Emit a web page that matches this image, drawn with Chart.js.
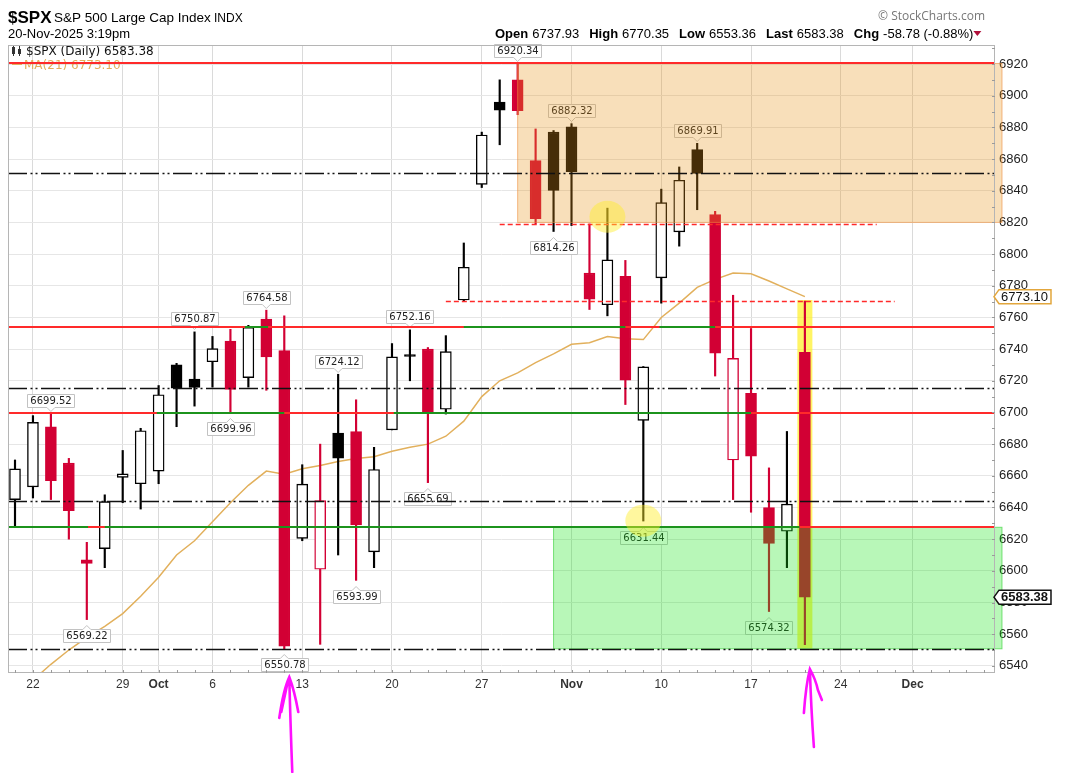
<!DOCTYPE html>
<html>
<head>
<meta charset="utf-8">
<script src="https://cdn.jsdelivr.net/npm/chart.js@4.4.1/dist/chart.umd.min.js"></script>
<style>
  html, body { margin: 0; padding: 0; background: #fff; overflow: hidden; }
  canvas { display: block; }
</style>
</head>
<body>
<canvas id="spx" width="1066" height="773" style="width:1066px;height:773px"></canvas>
<script>
// trading days shown, x value of each candle = its position - 1 (Sep 22 = 0)
const dates = ['Sep 19','Sep 22','Sep 23','Sep 24','Sep 25','Sep 26','Sep 29','Sep 30','Oct 1','Oct 2','Oct 3',
  'Oct 6','Oct 7','Oct 8','Oct 9','Oct 10','Oct 13','Oct 14','Oct 15','Oct 16','Oct 17','Oct 20','Oct 21','Oct 22',
  'Oct 23','Oct 24','Oct 27','Oct 28','Oct 29','Oct 30','Oct 31','Nov 3','Nov 4','Nov 5','Nov 6','Nov 7','Nov 10',
  'Nov 11','Nov 12','Nov 13','Nov 14','Nov 17','Nov 18','Nov 19','Nov 20'];
const opens = [6645, 6653, 6691, 6668, 6607, 6614, 6659, 6655, 6663, 6730, 6721, 6732, 6745, 6722, 6759, 6739,
  6620.5, 6601, 6687, 6688, 6612, 6689, 6736.5, 6740, 6702, 6771, 6844, 6896, 6910, 6859, 6877, 6880.4, 6788, 6768,
  6786, 6695, 6785, 6814, 6866, 6825, 6670, 6712, 6640, 6625, 6737.93];
const highs = [6670, 6698, 6699.52, 6671, 6618, 6648, 6676, 6690, 6717, 6731, 6750.87, 6748, 6752.5, 6755, 6764.58,
  6761, 6667, 6680, 6724.12, 6708, 6678, 6743.5, 6752.16, 6741, 6748.5, 6807, 6877, 6910, 6920.34, 6879, 6878,
  6882.32, 6819, 6829, 6796, 6729, 6841, 6855, 6869.91, 6827, 6774, 6753, 6665, 6688, 6770.35];
const lows = [6628, 6646, 6645, 6620, 6569.22, 6602, 6643, 6639, 6655, 6691, 6704, 6716, 6699.96, 6716, 6714,
  6550.78, 6619, 6553.6, 6610, 6593.99, 6602, 6689, 6720, 6655.69, 6699, 6770, 6842, 6869, 6888, 6819, 6814.26,
  6818, 6765, 6761, 6705, 6631.44, 6769, 6805, 6828, 6723, 6645, 6637, 6574.32, 6602, 6553.36];
const closes = [6664.36, 6693.75, 6656.92, 6637.97, 6604.72, 6643.70, 6661.21, 6688.46, 6711.20, 6715.35, 6715.79,
  6740.28, 6714.59, 6753.72, 6735.11, 6552.51, 6654.72, 6644.31, 6671.06, 6629.07, 6664.01, 6735.13, 6735.35,
  6699.40, 6738.44, 6791.69, 6875.16, 6890.89, 6890.59, 6822.34, 6840.20, 6851.97, 6771.55, 6796.29, 6720.32,
  6728.80, 6832.43, 6846.61, 6850.92, 6737.49, 6734.11, 6672.41, 6617.32, 6642.16, 6583.38];
const prevClose = 6631.96;
const ma21 = [6521, 6531, 6541, 6550, 6558, 6565, 6573, 6584, 6596, 6610, 6619, 6631, 6643, 6654, 6663, 6661,
  6664.5, 6666.5, 6669, 6671, 6672, 6675.5, 6678, 6680, 6685, 6694.5, 6710, 6720, 6725, 6731.5, 6737, 6743, 6744,
  6748, 6746.5, 6746, 6760, 6769, 6779, 6784, 6788, 6787.5, 6783, 6778, 6773.1];

// axis ticks
const tickIdx = [0, 5, 7, 10, 15, 20, 25, 30, 35, 40, 45, 49];
const tickText = ['22', '29', 'Oct', '6', '13', '20', '27', 'Nov', '10', '17', '24', 'Dec'];
const monthTicks = [7, 30, 49];
const yTicks = [6540, 6560, 6580, 6600, 6620, 6640, 6660, 6680, 6700, 6720, 6740, 6760, 6780, 6800, 6820, 6840,
  6860, 6880, 6900, 6920];

// annotations
const hiTags = ['Sep 23', 'Oct 3', 'Oct 9', 'Oct 15', 'Oct 21', 'Oct 29', 'Nov 3', 'Nov 12'];
const loTags = ['Sep 25', 'Oct 7', 'Oct 10', 'Oct 16', 'Oct 22', 'Oct 31', 'Nov 7', 'Nov 18'];
const redLevels = [6920.34, 6753.72, 6699.96, 6627.5];
const greenSegments = [[6753.72, 11.8, 13.1], [6753.72, 24.0, 33.0], [6753.72, 34.9, 38.0],
  [6699.96, 6.9, 14.0], [6699.96, 20.1, 40.0], [6627.5, -1.4, 3.07], [6627.5, 4.0, 42.7]];
const dashDotLevels = [6850.92, 6715.35, 6644.31, 6550.78];
const redDashes = [[6819, 26.0, 47.0], [6770.35, 23.0, 48.0]];
const resistZone = ['Oct 29', 6820, 6920.34];
const supportZone = ['Oct 31', 6550.78, 6627.5];
const highlight = ['Nov 20', 6551, 6771];
const circles = [[32, 6823.6], [34, 6631.7]];
const arrowDates = ['Oct 10', 'Nov 20'];

const red = 'rgb(210,0,52)';
const black = '#000';
const maColor = 'rgb(226,176,92)';
const xMin = -1.39, xMax = 53.59;
const yMin = 6535.5, yMax = 6932.0;

const dayX = d => dates.indexOf(d) - 1;
const candleColor = closes.map((c, k) => c >= (k ? closes[k - 1] : prevClose) ? black : red);
const bodyFill = closes.map((c, k) => c > opens[k] ? '#fff' : candleColor[k]);

function drawTag(ctx, cx, y, text, below) {
  ctx.font = '10px "DejaVu Sans"';
  const w = Math.round(ctx.measureText(text).width) + 6, h = 13;
  const top = Math.round(below ? y + 9.5 : y - 6.5 - h) + 0.5;
  const left = Math.round(cx - w / 2) + 0.5;
  ctx.beginPath();
  if (below) {
    ctx.moveTo(left, top); ctx.lineTo(cx - 4, top); ctx.lineTo(cx, top - 4); ctx.lineTo(cx + 4, top);
    ctx.lineTo(left + w, top); ctx.lineTo(left + w, top + h); ctx.lineTo(left, top + h);
  } else {
    ctx.moveTo(left, top); ctx.lineTo(left + w, top); ctx.lineTo(left + w, top + h); ctx.lineTo(cx + 4, top + h);
    ctx.lineTo(cx, top + h + 4); ctx.lineTo(cx - 4, top + h); ctx.lineTo(left, top + h);
  }
  ctx.closePath();
  ctx.fillStyle = '#fff';
  ctx.fill();
  ctx.strokeStyle = '#c2c2c2';
  ctx.lineWidth = 1;
  ctx.stroke();
  ctx.fillStyle = '#222';
  ctx.textAlign = 'center';
  ctx.textBaseline = 'middle';
  ctx.fillText(text, left + w / 2, top + h / 2 + 0.5);
}

// solid level lines are snapped to whole pixels so green segments fully cover the red ones
function hline(ctx, y, x0, x1, color, width, dash) {
  ctx.save();
  ctx.strokeStyle = color;
  ctx.lineWidth = width;
  ctx.setLineDash(dash || []);
  ctx.beginPath();
  ctx.moveTo(x0, y);
  ctx.lineTo(x1, y);
  ctx.stroke();
  ctx.restore();
}

function sideTag(ctx, x0, y, text, border, bold) {
  ctx.font = (bold ? 'bold ' : '') + '13px "Liberation Sans"';
  const w = ctx.measureText(text).width + 5, h = 14;
  ctx.beginPath();
  ctx.moveTo(x0, y);
  ctx.lineTo(x0 + 5, y - h / 2);
  ctx.lineTo(x0 + 5 + w, y - h / 2);
  ctx.lineTo(x0 + 5 + w, y + h / 2);
  ctx.lineTo(x0 + 5, y + h / 2);
  ctx.closePath();
  ctx.fillStyle = '#fff';
  ctx.fill();
  ctx.strokeStyle = border;
  ctx.lineWidth = 1.5;
  ctx.stroke();
  ctx.fillStyle = '#111';
  ctx.textAlign = 'left';
  ctx.textBaseline = 'middle';
  ctx.fillText(text, x0 + 7, y + 0.5);
}

const overlay = {
  id: 'overlay',
  beforeDatasetsDraw(chart) {
    const { ctx, scales: { x, y } } = chart;
    const hx = x.getPixelForValue(dayX(highlight[0]));
    ctx.save();
    ctx.fillStyle = 'rgba(255,240,40,0.72)';
    ctx.fillRect(hx - 7.5, y.getPixelForValue(highlight[2]), 15,
      y.getPixelForValue(highlight[1]) - y.getPixelForValue(highlight[2]));
    ctx.restore();
  },
  afterDatasetsDraw(chart) {
    const { ctx, chartArea: a, scales: { x, y } } = chart;
    ctx.save();

    // legend inside the plot
    ctx.fillStyle = '#333';
    ctx.fillRect(12, 47, 3, 7); ctx.fillRect(13, 45, 1, 11);
    ctx.fillRect(18, 49, 3, 5); ctx.fillRect(19, 46, 1, 10);
    ctx.font = '12px "DejaVu Sans"';
    ctx.textAlign = 'left';
    ctx.textBaseline = 'middle';
    ctx.fillStyle = '#111';
    ctx.fillText('$SPX (Daily) 6583.38', 26, 52);
    hline(ctx, 64, 12, 22, maColor, 2);
    ctx.fillStyle = maColor;
    ctx.fillText('MA(21) 6773.10', 24, 66);

    // value tags at highs and lows
    hiTags.forEach(d => {
      const k = dates.indexOf(d);
      drawTag(ctx, x.getPixelForValue(k - 1), y.getPixelForValue(highs[k]), highs[k].toFixed(2), false);
    });
    loTags.forEach(d => {
      const k = dates.indexOf(d);
      drawTag(ctx, x.getPixelForValue(k - 1), y.getPixelForValue(lows[k]), lows[k].toFixed(2), true);
    });

    // zones
    const zone = (z, fill, edge) => {
      const zx = x.getPixelForValue(dayX(z[0]));
      const top = y.getPixelForValue(z[2]), bot = y.getPixelForValue(z[1]);
      ctx.fillStyle = fill;
      ctx.fillRect(zx, top, a.right + 7 - zx, bot - top);
      ctx.strokeStyle = edge;
      ctx.lineWidth = 1;
      ctx.strokeRect(zx, top, a.right + 7 - zx, bot - top);
    };
    zone(resistZone, 'rgba(232,150,25,0.3)', 'rgba(236,140,60,0.6)');
    zone(supportZone, 'rgba(20,230,20,0.3)', 'rgba(30,200,30,0.55)');

    // level lines
    const snap = v => Math.round(y.getPixelForValue(v));
    redLevels.forEach(v => hline(ctx, snap(v), a.left, a.right, '#ff2a2a', 2));
    greenSegments.forEach(s => hline(ctx, snap(s[0]),
      Math.max(a.left, x.getPixelForValue(s[1])), x.getPixelForValue(s[2]), '#1c931c', 2));
    dashDotLevels.forEach(v => hline(ctx, snap(v) + 0.5, a.left, a.right, '#111', 1.6,
      [19, 3.5, 2, 3, 2, 3.5]));
    redDashes.forEach(s => hline(ctx, snap(s[0]) + 0.5, x.getPixelForValue(s[1]),
      x.getPixelForValue(s[2]), '#ff2a2a', 1.5, [5, 3]));

    // yellow marker circles
    ctx.fillStyle = 'rgba(255,238,40,0.45)';
    circles.forEach(c => {
      ctx.beginPath();
      ctx.ellipse(x.getPixelForValue(c[0]), y.getPixelForValue(c[1]), 18, 16, 0, 0, Math.PI * 2);
      ctx.fill();
    });
    ctx.restore();
  },
  afterDraw(chart) {
    const { ctx, chartArea: a, scales: { x, y } } = chart;
    ctx.save();

    // frame and minor ticks
    ctx.strokeStyle = '#b5b5b5';
    ctx.lineWidth = 1;
    ctx.strokeRect(a.left + 0.5, a.top + 0.5, a.right - a.left - 1, a.bottom - a.top - 1);
    ctx.strokeStyle = '#9a9a9a';
    ctx.beginPath();
    for (let i = -1; i <= 53; i++) {
      const tx = Math.round(x.getPixelForValue(i)) + 0.5;
      ctx.moveTo(tx, a.bottom - 3); ctx.lineTo(tx, a.bottom);
    }
    for (let v = 6540; v <= 6930; v += 10) {
      const ty = Math.round(y.getPixelForValue(v)) + 0.5;
      ctx.moveTo(a.right - 3, ty); ctx.lineTo(a.right, ty);
    }
    ctx.stroke();

    // right-hand value tags
    sideTag(ctx, a.right - 1, y.getPixelForValue(ma21[ma21.length - 1]), '6773.10', '#e2a63c', false);
    sideTag(ctx, a.right - 1, y.getPixelForValue(closes[closes.length - 1]), '6583.38', '#111', true);

    // header
    ctx.textAlign = 'left';
    ctx.textBaseline = 'alphabetic';
    ctx.fillStyle = '#000';
    ctx.font = 'bold 17px "Liberation Sans"';
    ctx.fillText('$SPX', 8, 23);
    ctx.font = '13.5px "Liberation Sans"';
    ctx.fillText('S&P 500 Large Cap Index', 54, 22);
    ctx.font = '12px "Liberation Sans"';
    ctx.fillText('INDX', 214, 22);
    ctx.font = '13px "Liberation Sans"';
    ctx.fillText('20-Nov-2025 3:19pm', 8, 38);

    const parts = [['Open', '6737.93'], ['High', '6770.35'], ['Low', '6553.36'], ['Last', '6583.38'],
      ['Chg', '-58.78 (-0.88%)']];
    let hx = 495;
    parts.forEach(p => {
      ctx.font = 'bold 13px "Liberation Sans"';
      ctx.fillText(p[0], hx, 38);
      hx += ctx.measureText(p[0]).width + 4;
      ctx.font = '13px "Liberation Sans"';
      ctx.fillText(p[1], hx, 38);
      hx += ctx.measureText(p[1]).width + 10;
    });
    ctx.fillStyle = '#b0103a';
    ctx.beginPath();
    ctx.moveTo(hx - 10, 31); ctx.lineTo(hx - 2, 31); ctx.lineTo(hx - 6, 36);
    ctx.closePath();
    ctx.fill();

    ctx.fillStyle = '#777';
    ctx.font = '12px "Open Sans"';
    ctx.textAlign = 'right';
    ctx.fillText('\u00A9 StockCharts.com', 985, 20);

    // hand-drawn magenta arrows under the axis
    ctx.strokeStyle = '#ff10ff';
    ctx.lineWidth = 2.6;
    ctx.lineCap = 'round';
    const a1 = x.getPixelForValue(dayX(arrowDates[0])) + 5;
    ctx.beginPath();
    ctx.moveTo(a1 + 3, 772); ctx.quadraticCurveTo(a1 + 1, 720, a1, 677);
    ctx.moveTo(a1 - 10, 718); ctx.quadraticCurveTo(a1 - 6, 690, a1, 677);
    ctx.quadraticCurveTo(a1 + 5, 690, a1 + 9, 712);
    ctx.moveTo(a1 - 8, 712); ctx.lineTo(a1 - 2, 684);
    ctx.stroke();
    const a2 = x.getPixelForValue(dayX(arrowDates[1])) + 5;
    ctx.beginPath();
    ctx.moveTo(a2 + 4, 747); ctx.quadraticCurveTo(a2 + 1, 705, a2, 669);
    ctx.moveTo(a2 - 6, 713); ctx.quadraticCurveTo(a2 - 4, 685, a2, 669);
    ctx.quadraticCurveTo(a2 + 6, 680, a2 + 8, 690);
    ctx.lineTo(a2 + 12, 700);
    ctx.stroke();
    ctx.restore();
  }
};

new Chart(document.getElementById('spx'), {
  type: 'bar',
  data: {
    datasets: [
      {
        type: 'line',
        label: 'MA(21)',
        data: dates.map((d, k) => ({ x: k - 1, y: ma21[k] })),
        borderColor: maColor,
        borderWidth: 1.5,
        pointRadius: 0,
        tension: 0,
        order: 3
      },
      {
        label: 'wick',
        data: dates.map((d, k) => ({ x: k - 1, y: [lows[k], highs[k]] })),
        backgroundColor: candleColor,
        borderWidth: 0,
        barThickness: 1.5,
        order: 2
      },
      {
        label: 'body',
        data: dates.map((d, k) => ({ x: k - 1, y: [opens[k], closes[k]] })),
        backgroundColor: bodyFill,
        borderColor: candleColor,
        borderWidth: 1.4,
        borderSkipped: false,
        barThickness: 11,
        order: 1
      }
    ]
  },
  options: {
    responsive: false,
    animation: false,
    layout: { padding: { left: 8, top: 45, right: 0, bottom: 0 } },
    datasets: { bar: { grouped: false } },
    plugins: { legend: { display: false }, tooltip: { enabled: false } },
    scales: {
      x: {
        type: 'linear',
        min: xMin,
        max: xMax,
        bounds: 'data',
        offset: false,
        afterBuildTicks: axis => { axis.ticks = tickIdx.map(v => ({ value: v })); },
        afterFit: axis => { axis.height = 100; },
        grid: { color: '#dadada', drawTicks: false, offset: false },
        border: { display: false },
        ticks: {
          autoSkip: false,
          maxRotation: 0,
          padding: 4,
          color: '#333',
          callback: v => tickText[tickIdx.indexOf(v)],
          font: ctx => ({
            family: 'Liberation Sans',
            size: 12,
            weight: ctx.tick && monthTicks.includes(ctx.tick.value) ? 'bold' : 'normal'
          })
        }
      },
      y: {
        position: 'right',
        min: yMin,
        max: yMax,
        bounds: 'data',
        afterBuildTicks: axis => { axis.ticks = yTicks.map(v => ({ value: v })); },
        afterFit: axis => { axis.width = 71; },
        grid: { color: '#e6e6e6', drawTicks: false },
        border: { display: false },
        ticks: {
          padding: 4,
          color: '#222',
          crossAlign: 'near',
          font: { family: 'Liberation Sans', size: 13 },
          callback: v => String(v)
        }
      }
    }
  },
  plugins: [overlay]
});
</script>
</body>
</html>
